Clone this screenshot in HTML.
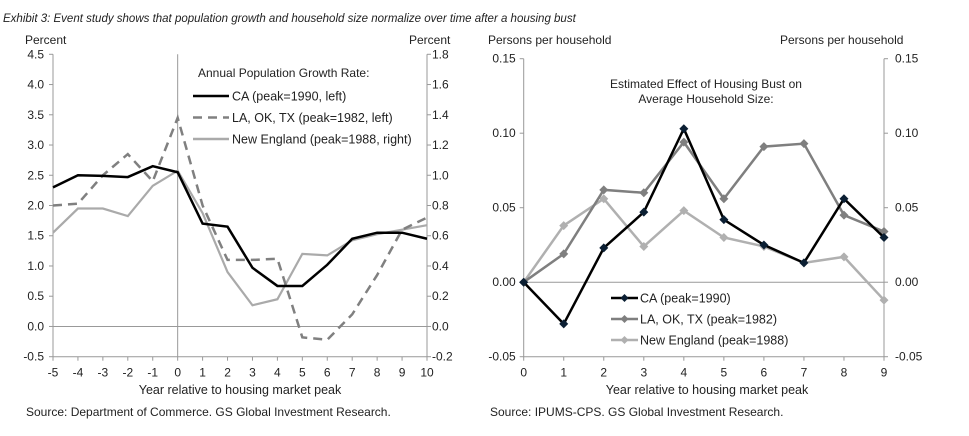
<!DOCTYPE html>
<html><head><meta charset="utf-8"><style>
body{margin:0;background:#fff;}
svg{display:block;font-family:"Liberation Sans",Arial,sans-serif;}
</style></head><body>
<svg id="s" width="969" height="436">
<text x="3" y="22" font-size="11.5" font-style="italic" fill="#222">Exhibit 3: Event study shows that population growth and household size normalize over time after a housing bust</text>
<g id="L"></g>
<g id="R"></g>
</svg>
<script>
const lYears=[-5,-4,-3,-2,-1,0,1,2,3,4,5,6,7,8,9,10];
const lCA=[2.3,2.5,2.49,2.47,2.65,2.55,1.7,1.65,0.97,0.67,0.67,1.02,1.45,1.55,1.55,1.45];
const lLA=[2.0,2.03,2.5,2.85,2.4,3.45,2.0,1.1,1.1,1.12,-0.18,-0.22,0.2,0.85,1.6,1.8];
const lNE=[0.62,0.78,0.78,0.73,0.93,1.03,0.75,0.36,0.14,0.18,0.48,0.47,0.57,0.61,0.64,0.67];
const lLeftTicks=[-0.5,0,0.5,1,1.5,2,2.5,3,3.5,4,4.5];
const lRightTicks=[-0.2,0,0.2,0.4,0.6,0.8,1.0,1.2,1.4,1.6,1.8];
const rYears=[0,1,2,3,4,5,6,7,8,9];
const rCA=[0,-0.028,0.023,0.047,0.103,0.042,0.025,0.013,0.056,0.030];
const rLA=[0,0.019,0.062,0.060,0.094,0.056,0.091,0.093,0.045,0.034];
const rNE=[0,0.038,0.056,0.024,0.048,0.030,0.024,0.013,0.017,-0.012];
const rTicks=[-0.05,0,0.05,0.10,0.15];

const NS="http://www.w3.org/2000/svg";
function mk(p,t,a,txt){const e=document.createElementNS(NS,t);for(const k in a)e.setAttribute(k,a[k]);if(txt!==undefined)e.textContent=txt;p.appendChild(e);return e;}
const AX="#999";

// LEFT
const L=document.getElementById('L');
const lx0=53,lx1=427,ly0=54.3,ly1=356.7;
const lX=v=>lx0+(v+5)/15*(lx1-lx0);
const lY=v=>ly1-(v+0.5)/5*(ly1-ly0);
const lY2=v=>ly1-(v+0.2)/2*(ly1-ly0);
mk(L,'polyline',{points:`${lx0},${ly0} ${lx0},${ly1} ${lx1},${ly1} ${lx1},${ly0}`,fill:'none',stroke:AX,'stroke-width':1});
mk(L,'line',{x1:lx0,x2:lx1,y1:lY(0),y2:lY(0),stroke:AX});
mk(L,'line',{x1:lX(0),x2:lX(0),y1:ly0,y2:ly1,stroke:AX});
lLeftTicks.forEach(v=>{mk(L,'line',{x1:lx0-4,x2:lx0,y1:lY(v),y2:lY(v),stroke:AX});
 const t=mk(L,'text',{x:lx0-9,y:lY(v)+4,'font-size':12,'text-anchor':'end',fill:'#222'},v.toFixed(1));
 
 });
lRightTicks.forEach(v=>{mk(L,'line',{x1:lx1,x2:lx1+4,y1:lY2(v),y2:lY2(v),stroke:AX});
 const t=mk(L,'text',{x:lx1+5,y:lY2(v)+4,'font-size':12,fill:'#222'},v.toFixed(1));
 
 });
lYears.forEach(v=>{mk(L,'line',{x1:lX(v),x2:lX(v),y1:ly1,y2:ly1+4,stroke:AX});
 const t=mk(L,'text',{x:lX(v),y:ly1+20,'font-size':12,'text-anchor':'middle',fill:'#222'},v);
 
 });
function line(p,xs,ys,fx,fy,st){const e=mk(p,'polyline',Object.assign({points:xs.map((x,i)=>fx(x)+','+fy(ys[i])).join(' '),fill:'none','stroke-linejoin':'miter'},st));return e;}
let e;
e=line(L,lYears,lNE,lX,lY2,{stroke:'#aaa','stroke-width':2.2});


e=line(L,lYears,lLA,lX,lY,{stroke:'#808080','stroke-width':2.5,'stroke-dasharray':'9,6'});


e=line(L,lYears,lCA,lX,lY,{stroke:'#000','stroke-width':2.5});


mk(L,'text',{x:25,y:44,'font-size':12,fill:'#222'},'Percent');
mk(L,'text',{x:409,y:44,'font-size':12,fill:'#222'},'Percent');
mk(L,'text',{x:240,y:394,'font-size':12.5,'text-anchor':'middle',fill:'#222'},'Year relative to housing market peak');
mk(L,'text',{x:26,y:416,'font-size':12,fill:'#222'},'Source: Department of Commerce. GS Global Investment Research.');
mk(L,'text',{x:198,y:77,'font-size':12,fill:'#222'},'Annual Population Growth Rate:');
[['CA (peak=1990, left)','#000',''],['LA, OK, TX (peak=1982, left)','#808080','9,6'],['New England (peak=1988, right)','#aaa','']].forEach((d,i)=>{
 const y=96+i*21.5;
 mk(L,'line',{x1:193,x2:229,y1:y,y2:y,stroke:d[1],'stroke-width':2.5,'stroke-dasharray':d[2]});
 const t=mk(L,'text',{x:232,y:y+4.5,'font-size':12.5,fill:'#222'},d[0]);
 
 });

// RIGHT
const R=document.getElementById('R');
const rx0=523.7,rx1=884,ry0=58.7,ry1=356.7;
const rX=v=>rx0+v/9*(rx1-rx0);
const rY=v=>ry1-(v+0.05)/0.2*(ry1-ry0);
mk(R,'polyline',{points:`${rx0},${ry0} ${rx0},${ry1} ${rx1},${ry1} ${rx1},${ry0}`,fill:'none',stroke:AX});
mk(R,'line',{x1:rx0,x2:rx1,y1:rY(0),y2:rY(0),stroke:AX});
rTicks.forEach(v=>{mk(R,'line',{x1:rx0-4,x2:rx0,y1:rY(v),y2:rY(v),stroke:AX});mk(R,'line',{x1:rx1,x2:rx1+4,y1:rY(v),y2:rY(v),stroke:AX});
 const s=v.toFixed(2);
 const a=mk(R,'text',{x:rx0-8,y:rY(v)+4,'font-size':12,'text-anchor':'end',fill:'#222'},s);
 
 
 const b=mk(R,'text',{x:rx1+11,y:rY(v)+4,'font-size':12,fill:'#222'},s);
 
 });
rYears.forEach(v=>{mk(R,'line',{x1:rX(v),x2:rX(v),y1:ry1,y2:ry1+4,stroke:AX});
 const t=mk(R,'text',{x:rX(v),y:ry1+20,'font-size':12,'text-anchor':'middle',fill:'#222'},v);
 
 });
function series(xs,ys,col,mc,name){const g=mk(R,'g',{});
 
 
 line(g,xs,ys,rX,rY,{stroke:col,'stroke-width':2.5});
 xs.forEach((x,i)=>{const cx=rX(x),cy=rY(ys[i]);mk(g,'polygon',{points:`${cx},${cy-4.5} ${cx+4.5},${cy} ${cx},${cy+4.5} ${cx-4.5},${cy}`,fill:mc});});}
series(rYears,rNE,'#b0b0b0','#b0b0b0','new-england-series');
series(rYears,rLA,'#7f7f7f','#7f7f7f','la-ok-tx-series');
series(rYears,rCA,'#000','#0b1f33','ca-series');
mk(R,'text',{x:488,y:44,'font-size':12,fill:'#222'},'Persons per household');
mk(R,'text',{x:780,y:44,'font-size':12,fill:'#222'},'Persons per household');
mk(R,'text',{x:706,y:88,'font-size':12,'text-anchor':'middle',fill:'#222'},'Estimated Effect of Housing Bust on');
mk(R,'text',{x:706,y:103,'font-size':12,'text-anchor':'middle',fill:'#222'},'Average Household Size:');
mk(R,'text',{x:707,y:394,'font-size':12.5,'text-anchor':'middle',fill:'#222'},'Year relative to housing market peak');
mk(R,'text',{x:490,y:416,'font-size':12,fill:'#222'},'Source: IPUMS-CPS. GS Global Investment Research.');
[['CA (peak=1990)','#000','#0b1f33'],['LA, OK, TX (peak=1982)','#7f7f7f','#7f7f7f'],['New England (peak=1988)','#b0b0b0','#b0b0b0']].forEach((d,i)=>{
 const y=298+i*21;
 mk(R,'line',{x1:611,x2:638,y1:y,y2:y,stroke:d[1],'stroke-width':2.5});
 mk(R,'polygon',{points:`624.5,${y-4} 628.5,${y} 624.5,${y+4} 620.5,${y}`,fill:d[2]});
 const t=mk(R,'text',{x:640,y:y+4.5,'font-size':12.5,fill:'#222'},d[0]);
 
 });
</script>
</body></html>
